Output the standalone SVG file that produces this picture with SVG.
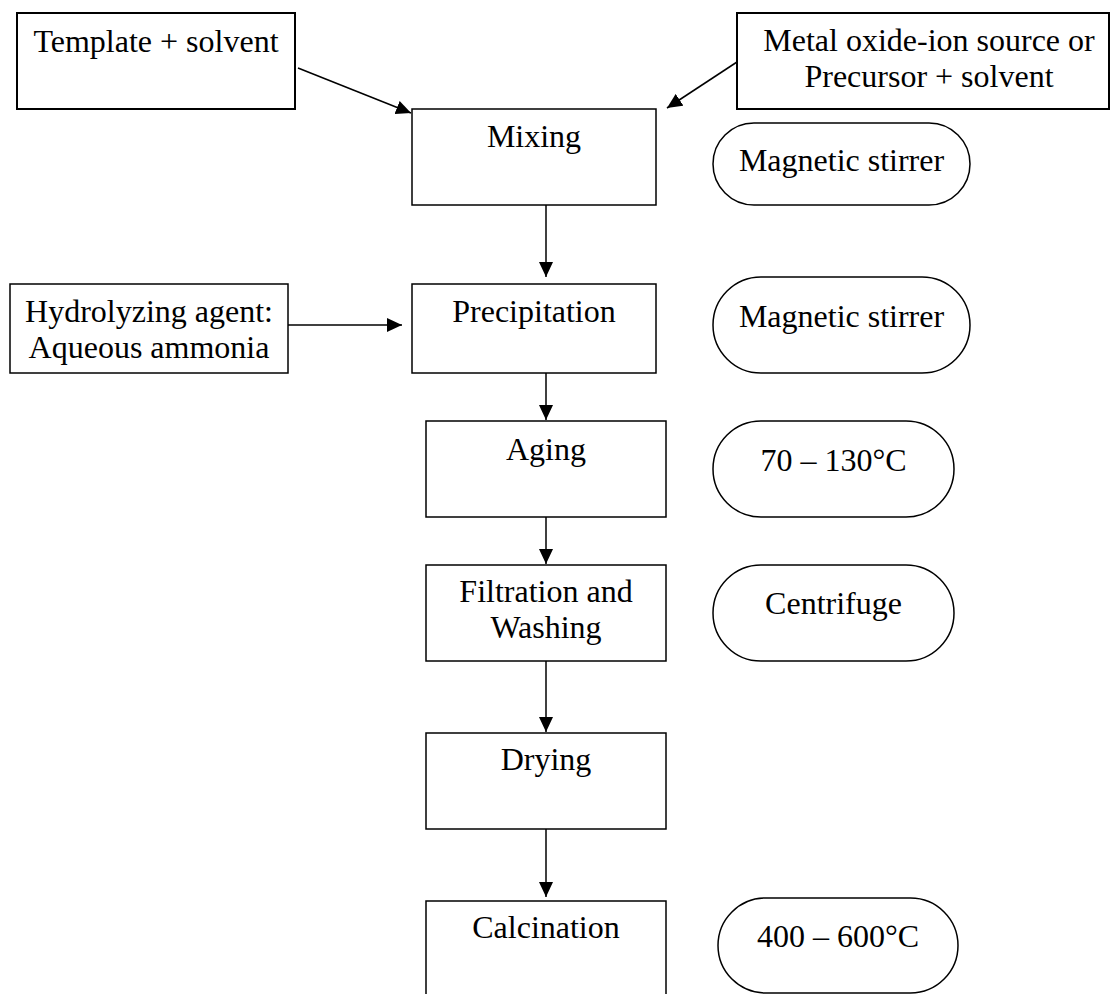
<svg xmlns="http://www.w3.org/2000/svg" width="1111" height="994" viewBox="0 0 1111 994">
<defs>
<style>
.box{fill:#fff;stroke:#000;stroke-width:1.5}
.thick{stroke-width:2}
.oval{fill:#fff;stroke:#000;stroke-width:1.5}
.t{font-family:"Liberation Serif","Times New Roman",serif;font-size:32px;fill:#000;text-anchor:middle}
.c{stroke:#000;stroke-width:1.5;fill:none;marker-end:url(#ah)}
</style>
<marker id="ah" markerUnits="userSpaceOnUse" markerWidth="15" markerHeight="14" refX="15" refY="7" orient="auto" viewBox="0 0 15 14">
<path d="M0,0 L15,7 L0,14 z" fill="#000"/>
</marker>
</defs>
<rect width="1111" height="994" fill="#fff"/>
<g id="connectors">
<line class="c" x1="298" y1="68" x2="411" y2="113"/>
<line class="c" x1="737" y1="62" x2="667" y2="108"/>
<line class="c" x1="288" y1="325" x2="402" y2="325"/>
<line class="c" x1="546" y1="205" x2="546" y2="277"/>
<line class="c" x1="546" y1="373" x2="546" y2="420"/>
<line class="c" x1="546" y1="517" x2="546" y2="564"/>
<line class="c" x1="546" y1="661" x2="546" y2="732"/>
<line class="c" x1="546" y1="829" x2="546" y2="897"/>
</g>
<g id="template">
<rect class="box thick" x="17" y="13" width="278" height="96"/>
<text class="t" x="156" y="52">Template + solvent</text>
</g>
<g id="metal">
<rect class="box thick" x="737" y="13" width="372" height="96"/>
<text class="t" x="929" y="51">Metal oxide-ion source or</text>
<text class="t" x="929" y="87">Precursor + solvent</text>
</g>
<g id="mixing">
<rect class="box" x="412" y="109" width="244" height="96"/>
<text class="t" x="534" y="147">Mixing</text>
</g>
<g id="stirrer1">
<rect class="oval" x="713" y="123" width="257" height="82" rx="41" ry="41"/>
<text class="t" x="841.5" y="170.5">Magnetic stirrer</text>
</g>
<g id="hydrolyzing">
<rect class="box" x="10" y="284" width="278" height="89"/>
<text class="t" x="149" y="322">Hydrolyzing agent:</text>
<text class="t" x="149" y="358">Aqueous ammonia</text>
</g>
<g id="precipitation">
<rect class="box" x="412" y="284" width="244" height="89"/>
<text class="t" x="534" y="322">Precipitation</text>
</g>
<g id="stirrer2">
<rect class="oval" x="713" y="277" width="257" height="96" rx="48" ry="48"/>
<text class="t" x="841.5" y="327">Magnetic stirrer</text>
</g>
<g id="aging">
<rect class="box" x="426" y="421" width="240" height="96"/>
<text class="t" x="546" y="460">Aging</text>
</g>
<g id="temp1">
<rect class="oval" x="713" y="421" width="241" height="96" rx="48" ry="48"/>
<text class="t" x="833.5" y="470.5">70 – 130°C</text>
</g>
<g id="filtration">
<rect class="box" x="426" y="565" width="240" height="96"/>
<text class="t" x="546" y="602">Filtration and</text>
<text class="t" x="546" y="638">Washing</text>
</g>
<g id="centrifuge">
<rect class="oval" x="713" y="565" width="241" height="96" rx="48" ry="48"/>
<text class="t" x="833.5" y="613.5">Centrifuge</text>
</g>
<g id="drying">
<rect class="box" x="426" y="733" width="240" height="96"/>
<text class="t" x="546" y="770">Drying</text>
</g>
<g id="calcination">
<rect class="box" x="426" y="901" width="240" height="120"/>
<text class="t" x="546" y="938">Calcination</text>
</g>
<g id="temp2">
<rect class="oval" x="718" y="898" width="240" height="95" rx="47.5" ry="47.5"/>
<text class="t" x="838" y="947">400 – 600°C</text>
</g>
</svg>
